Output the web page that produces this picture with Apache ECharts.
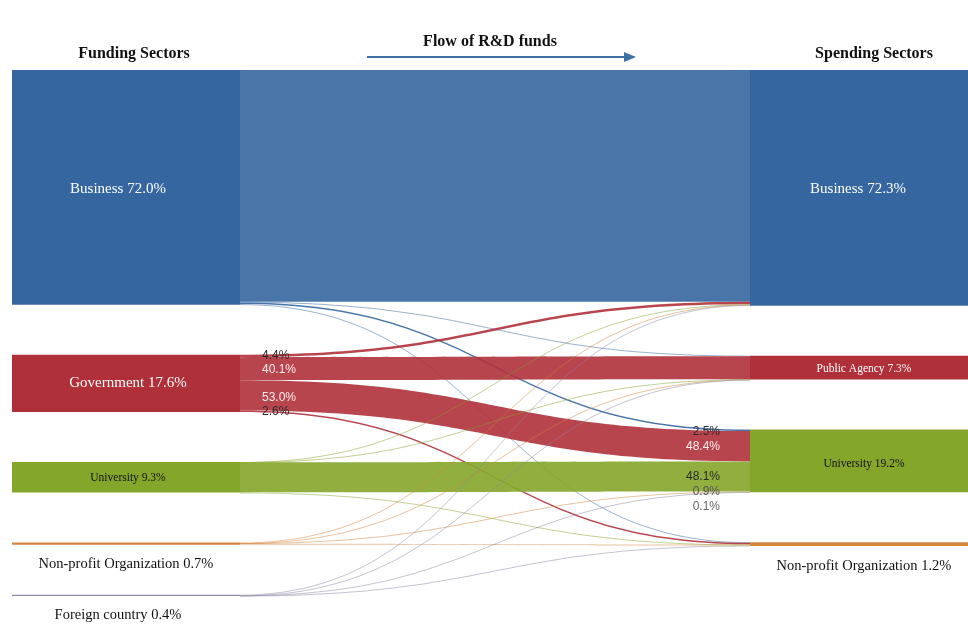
<!DOCTYPE html>
<html>
<head>
<meta charset="utf-8">
<script src="https://cdn.jsdelivr.net/npm/echarts@6/dist/echarts.min.js"></script>
<style>html,body{margin:0;padding:0;background:#fff}#c{width:968px;height:626px}</style>
</head>
<body>
<div id="c"></div>
<script>
// ---- data ----
var funders = ['Business', 'Government', 'University', 'Non-profit Organization', 'Foreign country'];
var funderShares = [72.0, 17.6, 9.3, 0.7, 0.4];
var spenders = ['Business', 'Public Agency', 'University', 'Non-profit Organization'];
var spenderShares = [72.3, 7.3, 19.2, 1.2];
// flows from each funding sector to spending sectors [Business, Public Agency, University, Non-profit]
var fromBusiness   = [71.1, 0.2, 0.48, 0.22];
var fromGovernment = [0.77, 7.06, 9.31, 0.46];
var fromUniversity = [0.03, 0.02, 9.24, 0.01];
var fromNonprofit  = [0.2, 0.01, 0.17, 0.32];
var fromForeign    = [0.2, 0.01, 0.02, 0.17];
// shares of government funding by destination (shown at source)
var govShareLabels = ['4.4%', '40.1%', '53.0%', '2.6%'];
// shares of university spending by origin (shown at target)
var univShareLabels = ['2.5%', '48.4%', '48.1%', '0.9%', '0.1%'];

var funderColors = ['#3566a0', '#b0303a', '#84a62a', '#d4863e', '#8a8aa6'];
var spenderColors = ['#3566a0', '#b0303a', '#84a62a', '#d4863e'];

var flows = [fromBusiness, fromGovernment, fromUniversity, fromNonprofit, fromForeign];

var serif = '"Liberation Serif", "Times New Roman", serif';
var sans = '"Liberation Sans", Arial, sans-serif';

function fId(i) { return 'F:' + funders[i]; }
function sId(j) { return 'S:' + spenders[j]; }

var nodeLabelStyles = {
  'F:Business': {position: 'inside', color: '#fff', fontSize: 15, offset: [-8, 2]},
  'F:Government': {position: 'inside', color: '#fff', fontSize: 15, offset: [2, 0]},
  'F:University': {position: 'inside', color: '#111', fontSize: 11.5, offset: [2, 1]},
  'F:Non-profit Organization': {position: 'bottom', distance: 12, color: '#111', fontSize: 14.5},
  'F:Foreign country': {position: 'bottom', distance: 12, color: '#111', fontSize: 14.5, offset: [-8, 0]},
  'S:Business': {position: 'inside', color: '#fff', fontSize: 15, offset: [-6, 1]},
  'S:Public Agency': {position: 'inside', color: '#fff', fontSize: 11.5, offset: [0, 1]},
  'S:University': {position: 'inside', color: '#111', fontSize: 11.5, offset: [0, 3]},
  'S:Non-profit Organization': {position: 'bottom', distance: 13, color: '#111', fontSize: 14.5}
};

function buildNodes(overlay) {
  var nodes = [];
  funders.forEach(function (n, i) {
    var item = {name: fId(i), itemStyle: {color: funderColors[i]}};
    if (overlay) {
      item.itemStyle.opacity = 0;
      if (n === 'Government') {
        item.label = {
          show: true, position: 'right', distance: 22,
          formatter: '{d|' + govShareLabels[0] + '}\n{w|' + govShareLabels[1] + '}\n{w| }\n{w|' + govShareLabels[2] + '}\n{d|' + govShareLabels[3] + '}',
          rich: {
            d: {color: '#2a2a2a', fontFamily: sans, fontSize: 12, lineHeight: 14},
            w: {color: '#fbeeee', fontFamily: sans, fontSize: 12, lineHeight: 14}
          }
        };
      } else {
        item.label = {show: false};
      }
    } else {
      var st = nodeLabelStyles[fId(i)];
      item.label = Object.assign({show: true, fontFamily: serif, formatter: n + ' ' + funderShares[i].toFixed(1) + '%'}, st);
    }
    nodes.push(item);
  });
  spenders.forEach(function (n, j) {
    var item = {name: sId(j), itemStyle: {color: spenderColors[j]}};
    if (overlay) {
      item.itemStyle.opacity = 0;
      if (n === 'University') {
        item.label = {
          show: true, position: 'left', distance: 30, offset: [0, 8], align: 'right',
          formatter: '{d|' + univShareLabels[0] + '}\n{w|' + univShareLabels[1] + '}\n{w| }\n{d|' + univShareLabels[2] + '}\n{g|' + univShareLabels[3] + '}\n{h|' + univShareLabels[4] + '}',
          rich: {
            d: {color: '#2a2a2a', fontFamily: sans, fontSize: 12, lineHeight: 15, align: 'right'},
            w: {color: '#fbeeee', fontFamily: sans, fontSize: 12, lineHeight: 15, align: 'right'},
            g: {color: '#555', fontFamily: sans, fontSize: 12, lineHeight: 15, align: 'right'},
            h: {color: '#666', fontFamily: sans, fontSize: 12, lineHeight: 15, align: 'right'}
          }
        };
      } else {
        item.label = {show: false};
      }
    } else {
      var st = nodeLabelStyles[sId(j)];
      item.label = Object.assign({show: true, fontFamily: serif, formatter: n + ' ' + spenderShares[j].toFixed(1) + '%'}, st);
    }
    nodes.push(item);
  });
  return nodes;
}

function buildLinks(overlay) {
  var links = [];
  flows.forEach(function (row, i) {
    row.forEach(function (v, j) {
      links.push({
        source: fId(i), target: sId(j), value: v,
        lineStyle: {color: funderColors[i], opacity: overlay ? 0 : (v >= 0.4 ? 0.9 : 0.5), curveness: 0.5}
      });
    });
  });
  return links;
}

var common = {
  type: 'sankey',
  left: 12, right: -10, top: 70, bottom: 30,
  nodeWidth: 228, nodeGap: 50,
  layoutIterations: 0,
  draggable: false,
  emphasis: {disabled: true},
  label: {fontFamily: serif}
};

var chart = echarts.init(document.getElementById('c'), null, {renderer: 'canvas'});
chart.setOption({
  backgroundColor: '#ffffff',
  animation: false,
  title: [
    {text: 'Funding Sectors', left: 129, top: 41, textAlign: 'center',
     textStyle: {fontFamily: serif, fontWeight: 'bold', fontSize: 16, color: '#111'}},
    {text: 'Flow of R&D funds', left: 485, top: 29, textAlign: 'center',
     textStyle: {fontFamily: serif, fontWeight: 'bold', fontSize: 16, color: '#111'}},
    {text: 'Spending Sectors', left: 869, top: 41, textAlign: 'center',
     textStyle: {fontFamily: serif, fontWeight: 'bold', fontSize: 16, color: '#111'}}
  ],
  graphic: [
    {type: 'line', shape: {x1: 367, y1: 57, x2: 626, y2: 57}, style: {stroke: '#4070a8', lineWidth: 2}},
    {type: 'polygon', shape: {points: [[624, 52], [636, 57], [624, 62]]}, style: {fill: '#4070a8'}}
  ],
  tooltip: {show: false},
  series: [
    Object.assign({}, common, {data: buildNodes(false), links: buildLinks(false), z: 2}),
    Object.assign({}, common, {data: buildNodes(true), links: buildLinks(true), silent: true, z: 3})
  ]
});
</script>
</body>
</html>
